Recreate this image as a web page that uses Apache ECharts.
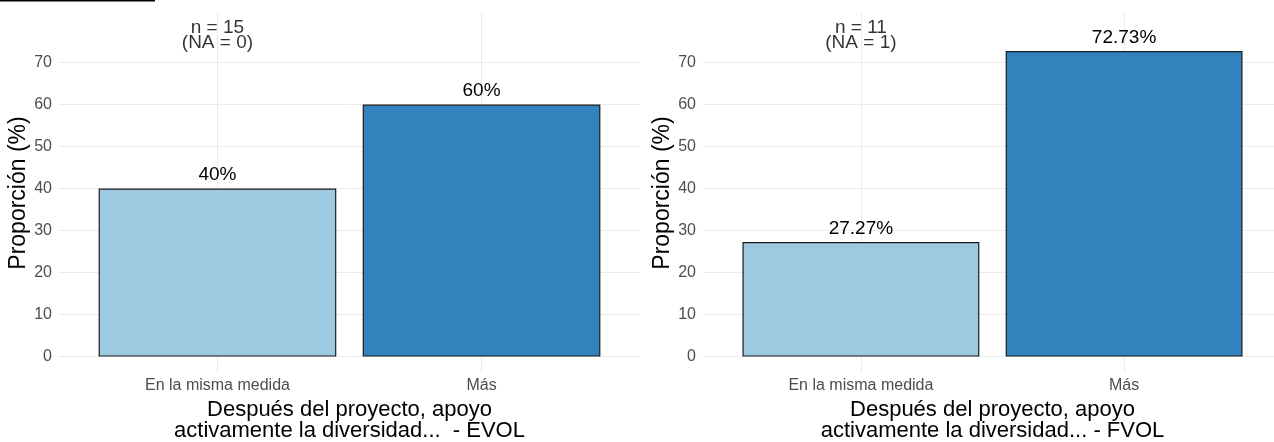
<!DOCTYPE html>
<html>
<head>
<meta charset="utf-8">
<script src="https://cdn.jsdelivr.net/npm/echarts@6/dist/echarts.min.js"></script>
<style>html,body{margin:0;padding:0;background:#fff;}#c{width:1274px;height:442px;}</style>
</head>
<body>
<div id="c"></div>
<script>
const categories = ['En la misma medida', 'Más'];
const valuesEVOL = [40, 60];
const valuesFVOL = [27.27, 72.73];
const barColors = ['#9ECAE1', '#3182BD'];
const yTicks = [0, 10, 20, 30, 40, 50, 60, 70];
const xPositions = [1, 2];
const notesEVOL = 'n = 15\n(NA = 0)';
const notesFVOL = 'n = 11\n(NA = 1)';
const titleEVOL = 'Después del proyecto, apoyo\nactivamente la diversidad...  - EVOL';
const titleFVOL = 'Después del proyecto, apoyo\nactivamente la diversidad... - FVOL';
const yTitle = 'Proporción (%)';

const FONT = '"Liberation Sans", Arial, sans-serif';
const chart = echarts.init(document.getElementById('c'), null, {renderer: 'canvas'});

function xAxis(idx, title) {
  return {
    type: 'value', gridIndex: idx, min: 0.4, max: 2.6,
    axisLine: {show: false},
    axisTick: {show: false, customValues: xPositions},
    axisLabel: {customValues: xPositions, color: '#4D4D4D', fontSize: 16, fontFamily: FONT, margin: 5,
      formatter: v => categories[Math.round(v) - 1] || ''},
    splitLine: {show: true, lineStyle: {color: '#EBEBEB', width: 1}},
    name: title, nameLocation: 'middle', nameGap: 25,
    nameTextStyle: {color: '#000', fontSize: 22, fontFamily: FONT, lineHeight: 21}
  };
}
function yAxis(idx) {
  return {
    type: 'value', gridIndex: idx, min: -3.9, max: 81.8,
    axisLine: {show: false},
    axisTick: {show: false, customValues: yTicks},
    axisLabel: {customValues: yTicks, color: '#4D4D4D', fontSize: 16, fontFamily: FONT, margin: 7},
    splitLine: {show: true, lineStyle: {color: '#EBEBEB', width: 1}},
    name: yTitle, nameLocation: 'middle', nameGap: 26, nameRotate: 90,
    nameTextStyle: {color: '#000', fontSize: 23, fontFamily: FONT}
  };
}
function barSeries(idx, vals) {
  return {
    type: 'bar', xAxisIndex: idx, yAxisIndex: idx, barWidth: '90%',
    data: vals.map((v, i) => ({value: [xPositions[i], v], itemStyle: {color: barColors[i]}})),
    itemStyle: {borderColor: '#1A1A1A', borderWidth: 1.2},
    label: {show: true, position: 'top', distance: 4, color: '#000', fontSize: 19, fontFamily: FONT,
      formatter: p => p.value[1] + '%'},
    silent: true
  };
}
function noteSeries(idx, text) {
  return {
    type: 'scatter', xAxisIndex: idx, yAxisIndex: idx, symbolSize: 0,
    data: [[xPositions[0], 76.6]],
    label: {show: true, position: 'inside', formatter: text, color: '#000', fontSize: 19,
      fontFamily: FONT, lineHeight: 15, align: 'center', verticalAlign: 'middle'},
    silent: true
  };
}

chart.setOption({
  animation: false,
  backgroundColor: '#fff',
  grid: [
    {left: 59, width: 581, top: 13, bottom: 69, outerBoundsMode: 'none', containLabel: false},
    {left: 703, width: 579, top: 13, bottom: 69, outerBoundsMode: 'none', containLabel: false}
  ],
  xAxis: [xAxis(0, titleEVOL), xAxis(1, titleFVOL)],
  yAxis: [yAxis(0), yAxis(1)],
  series: [barSeries(0, valuesEVOL), barSeries(1, valuesFVOL), noteSeries(0, notesEVOL), noteSeries(1, notesFVOL)],
  graphic: [{type: 'line', shape: {x1: 0, y1: 0.75, x2: 155, y2: 0.75}, style: {stroke: '#000', lineWidth: 1.5}}]
});
</script>
</body>
</html>
